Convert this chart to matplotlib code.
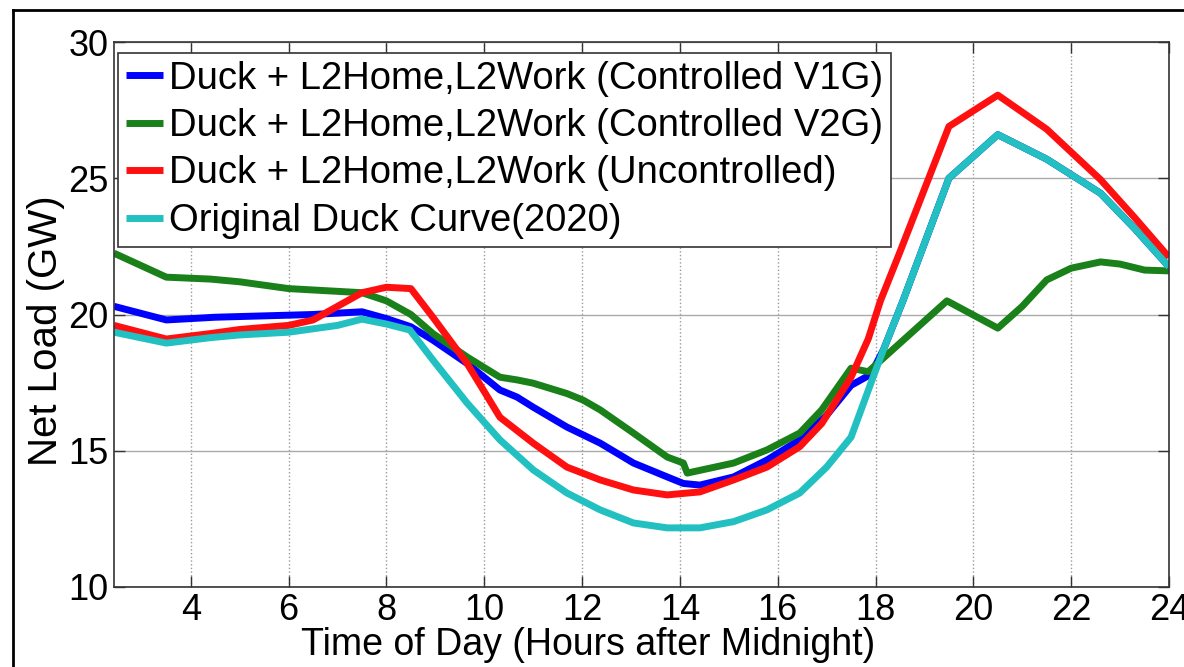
import matplotlib
matplotlib.use("Agg")
import matplotlib.pyplot as plt
from matplotlib.lines import Line2D

plt.rcParams['font.family'] = ['Liberation Sans', 'DejaVu Sans']

# ---- data (hours after midnight, GW) ----
v1g_x = [2.43, 3.5, 4.5, 5.5, 6.5, 7.5, 8.0, 8.5, 8.95, 9.65, 10.32, 10.67, 11.0, 11.69,
         12.37, 13.05, 13.74, 14.07, 14.41, 15.1, 15.78, 16.45, 17.0, 17.5, 17.9,
         18.16, 18.56, 19.5, 20.5, 21.5, 22.6, 23.3, 24.0]
v1g_y = [20.3, 19.8, 19.9, 19.95, 20.0, 20.1, 19.85, 19.55, 19.06, 18.2, 17.23, 16.97, 16.6, 15.87,
         15.28, 14.55, 14.04, 13.8, 13.74, 14.04, 14.66, 15.4, 16.3, 17.4, 17.8,
         18.7, 20.5, 25.0, 26.6, 25.7, 24.45, 23.15, 21.75]

v2g_x = [2.43, 3.5, 4.4, 5.0, 6.0, 7.0, 7.5, 8.0, 8.5, 8.95, 9.65, 10.32, 10.67, 11.0, 11.69,
         12.02, 12.37, 13.05, 13.74, 14.07, 14.15, 15.1, 15.78, 16.45, 16.9, 17.5, 17.85,
         19.46, 20.5, 21.0, 21.5, 22.0, 22.6, 23.0, 23.5, 24.0]
v2g_y = [22.25, 21.37, 21.3, 21.2, 20.95, 20.85, 20.8, 20.5, 20.0, 19.3, 18.44, 17.7, 17.6, 17.48, 17.1,
         16.86, 16.5, 15.65, 14.77, 14.55, 14.18, 14.55, 15.03, 15.65, 16.5, 18.03, 17.9,
         20.5, 19.5, 20.3, 21.27, 21.7, 21.93, 21.85, 21.63, 21.6]

unc_x = [2.43, 3.5, 4.4, 5.0, 6.0, 6.5, 7.0, 7.5, 8.0, 8.5, 8.95, 9.65, 10.32, 11.0, 11.69,
         12.37, 13.05, 13.74, 14.41, 15.1, 15.78, 16.45, 16.9, 17.5, 17.85, 18.1, 18.5,
         19.5, 20.5, 21.5, 22.6, 23.3, 24.0]
unc_y = [19.6, 19.1, 19.3, 19.45, 19.6, 19.8, 20.3, 20.8, 21.0, 20.95, 19.9, 18.2, 16.23, 15.28, 14.4,
         13.93, 13.56, 13.38, 13.49, 13.93, 14.4, 15.15, 16.0, 17.7, 19.1, 20.5, 22.3,
         26.9, 28.05, 26.8, 24.95, 23.55, 22.1]

orig_x = [2.43, 3.5, 4.4, 5.0, 6.0, 7.0, 7.5, 8.0, 8.48, 8.95, 9.65, 10.32, 11.0, 11.69,
          12.37, 13.05, 13.74, 14.41, 15.1, 15.78, 16.45, 17.0, 17.5, 17.95, 18.16, 18.56,
          19.5, 20.5, 21.5, 22.6, 23.3, 24.0]
orig_y = [19.35, 18.95, 19.15, 19.25, 19.35, 19.6, 19.83, 19.65, 19.43, 18.33, 16.75, 15.4, 14.3, 13.45,
          12.83, 12.35, 12.17, 12.17, 12.4, 12.83, 13.45, 14.4, 15.5, 17.7, 18.7, 20.5,
          25.0, 26.6, 25.7, 24.45, 23.15, 21.75]

labels = ["Duck + L2Home,L2Work (Controlled V1G)",
          "Duck + L2Home,L2Work (Controlled V2G)",
          "Duck + L2Home,L2Work (Uncontrolled)",
          "Original Duck Curve(2020)"]
colors = ['#0000ff', '#1a801a', '#ff1010', '#22c0c0']

x_ticks = [4, 6, 8, 10, 12, 14, 16, 18, 20, 22, 24]
y_ticks = [10, 15, 20, 25, 30]

fig = plt.figure(figsize=(11.84, 6.67), dpi=100)
ax = fig.add_axes([114/1184, 1 - 587/667, (1169-114)/1184, (587-42)/667])

series = [(v1g_x, v1g_y), (v2g_x, v2g_y), (unc_x, unc_y), (orig_x, orig_y)]
for (xs, ys), c, lab in zip(series, colors, labels):
    ax.plot(xs, ys, color=c, lw=5.0, label=lab, solid_joinstyle='round', solid_capstyle='butt')

ax.set_xlim(2.43, 24)
ax.set_ylim(10, 30)
ax.set_xticks(x_ticks)
ax.set_yticks(y_ticks)
ax.tick_params(direction='in', top=True, right=True, length=8, width=1,
               labelsize=26, colors='#333333', labelcolor='black', pad=4)
ax.xaxis.grid(True, linestyle=':', color='#999999', lw=1.0)
ax.yaxis.grid(True, linestyle='-', color='#aaaaaa', lw=1.0)
for s in ax.spines.values():
    s.set_color('#333333')
    s.set_linewidth(1.2)

ax.set_xlabel("Time of Day (Hours after Midnight)", fontsize=27)
ax.xaxis.label.set_va('center')
ax.xaxis.set_label_coords(0.449, -0.106)
ax.set_ylabel("Net Load (GW)", fontsize=29)
ax.yaxis.label.set_va('center')
ax.yaxis.set_label_coords(-0.064, 0.47)

leg = ax.legend(loc='upper left', bbox_to_anchor=(0.004, 0.98), fontsize=27.5,
                frameon=True, fancybox=False, framealpha=1, edgecolor='#333333',
                handlelength=0.97, handletextpad=0.16, borderpad=0.2, labelspacing=0.3,
                borderaxespad=0)
leg.get_frame().set_linewidth(1.2)

# outer figure border (left and top visible)
fig.add_artist(Line2D([13/1184, 13/1184], [1 - 10/667, 0], color='black', lw=2))
fig.add_artist(Line2D([13/1184, 1], [1 - 10/667, 1 - 10/667], color='black', lw=2))

fig.savefig("out.png", dpi=100)
